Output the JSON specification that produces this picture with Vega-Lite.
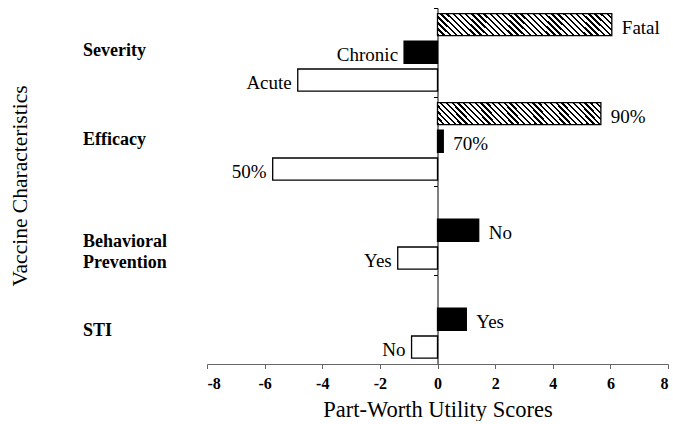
{
  "$schema": "https://vega.github.io/schema/vega-lite/v6.json",
  "padding": {"left": 9, "top": 7, "right": 0, "bottom": 0},
  "background": "white",
  "bounds": "flush",
  "data": {"values": [
    {"attribute": "Severity", "level": "Fatal", "tier": 3, "value": 6.05},
    {"attribute": "Severity", "level": "Chronic", "tier": 2, "value": -1.16},
    {"attribute": "Severity", "level": "Acute", "tier": 1, "value": -4.85},
    {"attribute": "Efficacy", "level": "90%", "tier": 3, "value": 5.67},
    {"attribute": "Efficacy", "level": "70%", "tier": 2, "value": 0.2},
    {"attribute": "Efficacy", "level": "50%", "tier": 1, "value": -5.72},
    {"attribute": "Behavioral Prevention", "level": "No", "tier": 2, "value": 1.43},
    {"attribute": "Behavioral Prevention", "level": "Yes", "tier": 1, "value": -1.38},
    {"attribute": "STI", "level": "Yes", "tier": 2, "value": 1.0},
    {"attribute": "STI", "level": "No", "tier": 1, "value": -0.9}
  ]},
  "facet": {
    "row": {
      "field": "attribute",
      "type": "nominal",
      "sort": ["Severity", "Efficacy", "Behavioral Prevention", "STI"],
      "title": "Vaccine Characteristics",
      "header": {
        "labels": false,
        "titleFont": "Liberation Serif",
        "titleFontSize": 21.5,
        "titleFontWeight": "normal",
        "titleColor": "black",
        "titlePadding": 166
      }
    }
  },
  "spacing": {"row": 0},
  "resolve": {"axis": {"y": "independent"}},
  "spec": {
    "width": 461,
    "height": 88.7,
    "layer": [
      {
        "mark": {"type": "bar", "stroke": "black", "strokeWidth": 1.3},
        "encoding": {
          "x": {
            "field": "value", "type": "quantitative",
            "title": "Part-Worth Utility Scores",
            "scale": {"domain": [-8, 8], "nice": false, "zero": false},
            "axis": {
              "values": [-8, -6, -4, -2, 0, 2, 4, 6, 8],
              "labelExpr": "'' + datum.value",
              "grid": false,
              "domainColor": "#666",
              "tickColor": "#666",
              "tickSize": 4.5,
              "labelFont": "Liberation Serif",
              "labelFontWeight": "bold",
              "labelFontSize": 16,
              "labelColor": "black",
              "labelPadding": 7,
              "titleFont": "Liberation Serif",
              "titleFontSize": 22.5,
              "titleFontWeight": "normal",
              "titleColor": "black",
              "titlePadding": 7
            }
          },
          "y": {
            "field": "tier", "type": "ordinal", "title": null,
            "scale": {"domain": [3, 2, 1], "paddingInner": 0.2, "paddingOuter": 0.2},
            "axis": {
              "orient": "left",
              "offset": -230.5,
              "values": [3],
              "labels": false,
              "ticks": true,
              "tickSize": 4,
              "tickOffset": -16.63,
              "tickColor": "black",
              "domainColor": "black",
              "domainWidth": 1,
              "grid": false,
              "title": null
            }
          },
          "fill": {
            "condition": [
              {"test": "datum.tier == 3", "value": {
                "gradient": "linear", "x1": 0, "y1": 1, "x2": 1.112, "y2": 0.854,
                "stops": [
                  {"offset": 0, "color": "#000"}, {"offset": 0.0125, "color": "#000"}, {"offset": 0.0125, "color": "#fff"}, {"offset": 0.03125, "color": "#fff"},
                  {"offset": 0.03125, "color": "#000"}, {"offset": 0.04375, "color": "#000"}, {"offset": 0.04375, "color": "#fff"}, {"offset": 0.0625, "color": "#fff"},
                  {"offset": 0.0625, "color": "#000"}, {"offset": 0.075, "color": "#000"}, {"offset": 0.075, "color": "#fff"}, {"offset": 0.09375, "color": "#fff"},
                  {"offset": 0.09375, "color": "#000"}, {"offset": 0.10625, "color": "#000"}, {"offset": 0.10625, "color": "#fff"}, {"offset": 0.125, "color": "#fff"},
                  {"offset": 0.125, "color": "#000"}, {"offset": 0.1375, "color": "#000"}, {"offset": 0.1375, "color": "#fff"}, {"offset": 0.15625, "color": "#fff"},
                  {"offset": 0.15625, "color": "#000"}, {"offset": 0.16875, "color": "#000"}, {"offset": 0.16875, "color": "#fff"}, {"offset": 0.1875, "color": "#fff"},
                  {"offset": 0.1875, "color": "#000"}, {"offset": 0.2, "color": "#000"}, {"offset": 0.2, "color": "#fff"}, {"offset": 0.21875, "color": "#fff"},
                  {"offset": 0.21875, "color": "#000"}, {"offset": 0.23125, "color": "#000"}, {"offset": 0.23125, "color": "#fff"}, {"offset": 0.25, "color": "#fff"},
                  {"offset": 0.25, "color": "#000"}, {"offset": 0.2625, "color": "#000"}, {"offset": 0.2625, "color": "#fff"}, {"offset": 0.28125, "color": "#fff"},
                  {"offset": 0.28125, "color": "#000"}, {"offset": 0.29375, "color": "#000"}, {"offset": 0.29375, "color": "#fff"}, {"offset": 0.3125, "color": "#fff"},
                  {"offset": 0.3125, "color": "#000"}, {"offset": 0.325, "color": "#000"}, {"offset": 0.325, "color": "#fff"}, {"offset": 0.34375, "color": "#fff"},
                  {"offset": 0.34375, "color": "#000"}, {"offset": 0.35625, "color": "#000"}, {"offset": 0.35625, "color": "#fff"}, {"offset": 0.375, "color": "#fff"},
                  {"offset": 0.375, "color": "#000"}, {"offset": 0.3875, "color": "#000"}, {"offset": 0.3875, "color": "#fff"}, {"offset": 0.40625, "color": "#fff"},
                  {"offset": 0.40625, "color": "#000"}, {"offset": 0.41875, "color": "#000"}, {"offset": 0.41875, "color": "#fff"}, {"offset": 0.4375, "color": "#fff"},
                  {"offset": 0.4375, "color": "#000"}, {"offset": 0.45, "color": "#000"}, {"offset": 0.45, "color": "#fff"}, {"offset": 0.46875, "color": "#fff"},
                  {"offset": 0.46875, "color": "#000"}, {"offset": 0.48125, "color": "#000"}, {"offset": 0.48125, "color": "#fff"}, {"offset": 0.5, "color": "#fff"},
                  {"offset": 0.5, "color": "#000"}, {"offset": 0.5125, "color": "#000"}, {"offset": 0.5125, "color": "#fff"}, {"offset": 0.53125, "color": "#fff"},
                  {"offset": 0.53125, "color": "#000"}, {"offset": 0.54375, "color": "#000"}, {"offset": 0.54375, "color": "#fff"}, {"offset": 0.5625, "color": "#fff"},
                  {"offset": 0.5625, "color": "#000"}, {"offset": 0.575, "color": "#000"}, {"offset": 0.575, "color": "#fff"}, {"offset": 0.59375, "color": "#fff"},
                  {"offset": 0.59375, "color": "#000"}, {"offset": 0.60625, "color": "#000"}, {"offset": 0.60625, "color": "#fff"}, {"offset": 0.625, "color": "#fff"},
                  {"offset": 0.625, "color": "#000"}, {"offset": 0.6375, "color": "#000"}, {"offset": 0.6375, "color": "#fff"}, {"offset": 0.65625, "color": "#fff"},
                  {"offset": 0.65625, "color": "#000"}, {"offset": 0.66875, "color": "#000"}, {"offset": 0.66875, "color": "#fff"}, {"offset": 0.6875, "color": "#fff"},
                  {"offset": 0.6875, "color": "#000"}, {"offset": 0.7, "color": "#000"}, {"offset": 0.7, "color": "#fff"}, {"offset": 0.71875, "color": "#fff"},
                  {"offset": 0.71875, "color": "#000"}, {"offset": 0.73125, "color": "#000"}, {"offset": 0.73125, "color": "#fff"}, {"offset": 0.75, "color": "#fff"},
                  {"offset": 0.75, "color": "#000"}, {"offset": 0.7625, "color": "#000"}, {"offset": 0.7625, "color": "#fff"}, {"offset": 0.78125, "color": "#fff"},
                  {"offset": 0.78125, "color": "#000"}, {"offset": 0.79375, "color": "#000"}, {"offset": 0.79375, "color": "#fff"}, {"offset": 0.8125, "color": "#fff"},
                  {"offset": 0.8125, "color": "#000"}, {"offset": 0.825, "color": "#000"}, {"offset": 0.825, "color": "#fff"}, {"offset": 0.84375, "color": "#fff"},
                  {"offset": 0.84375, "color": "#000"}, {"offset": 0.85625, "color": "#000"}, {"offset": 0.85625, "color": "#fff"}, {"offset": 0.875, "color": "#fff"},
                  {"offset": 0.875, "color": "#000"}, {"offset": 0.8875, "color": "#000"}, {"offset": 0.8875, "color": "#fff"}, {"offset": 0.90625, "color": "#fff"},
                  {"offset": 0.90625, "color": "#000"}, {"offset": 0.91875, "color": "#000"}, {"offset": 0.91875, "color": "#fff"}, {"offset": 0.9375, "color": "#fff"},
                  {"offset": 0.9375, "color": "#000"}, {"offset": 0.95, "color": "#000"}, {"offset": 0.95, "color": "#fff"}, {"offset": 0.96875, "color": "#fff"},
                  {"offset": 0.96875, "color": "#000"}, {"offset": 0.98125, "color": "#000"}, {"offset": 0.98125, "color": "#fff"}, {"offset": 1, "color": "#fff"}
                ]
              }},
              {"test": "datum.tier == 2", "value": "black"}
            ],
            "value": "white"
          }
        }
      },
      {
        "transform": [{"filter": "datum.value > 0"}],
        "mark": {"type": "text", "align": "left", "baseline": "alphabetic", "dx": 10, "dy": 9, "font": "Liberation Serif", "fontSize": 19, "color": "black"},
        "encoding": {
          "x": {"field": "value", "type": "quantitative", "title": "Part-Worth Utility Scores"},
          "y": {"field": "tier", "type": "ordinal", "title": null},
          "text": {"field": "level"}
        }
      },
      {
        "transform": [{"filter": "datum.value < 0"}],
        "mark": {"type": "text", "align": "right", "baseline": "alphabetic", "dx": -6, "dy": 9, "font": "Liberation Serif", "fontSize": 19, "color": "black"},
        "encoding": {
          "x": {"field": "value", "type": "quantitative", "title": "Part-Worth Utility Scores"},
          "y": {"field": "tier", "type": "ordinal", "title": null},
          "text": {"field": "level"}
        }
      },
      {
        "transform": [
          {"joinaggregate": [{"op": "count", "as": "n"}], "groupby": ["attribute"]},
          {"filter": "datum.n == 3 && datum.tier == 2"}
        ],
        "mark": {"type": "text", "align": "left", "baseline": "middle", "dx": -124, "dy": -1, "font": "Liberation Serif", "fontSize": 18, "fontWeight": "bold", "color": "black", "lineBreak": " ", "lineHeight": 21},
        "encoding": {
          "x": {"datum": -8},
          "y": {"field": "tier", "type": "ordinal", "title": null},
          "text": {"field": "attribute"}
        }
      },
      {
        "transform": [
          {"joinaggregate": [{"op": "count", "as": "n"}], "groupby": ["attribute"]},
          {"filter": "datum.n == 2 && datum.tier == 1"}
        ],
        "mark": {"type": "text", "align": "left", "baseline": "middle", "dx": -124, "dy": -5, "font": "Liberation Serif", "fontSize": 18, "fontWeight": "bold", "color": "black", "lineBreak": " ", "lineHeight": 21},
        "encoding": {
          "x": {"datum": -8},
          "y": {"field": "tier", "type": "ordinal", "title": null, "bandPosition": 0},
          "text": {"field": "attribute"}
        }
      }
    ]
  },
  "config": {
    "view": {"stroke": null},
    "axis": {"grid": false}
  }
}
